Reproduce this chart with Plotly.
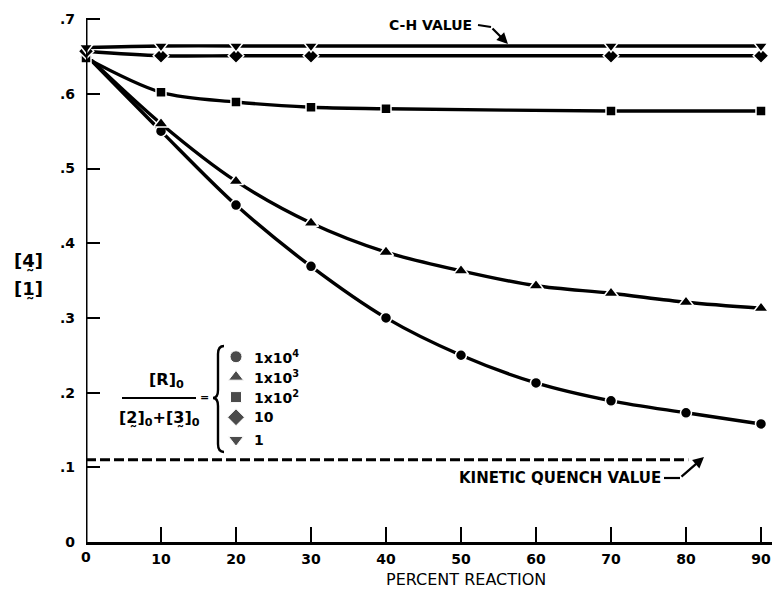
import plotly.graph_objects as go

# ---- data ----
pct = [0, 10, 20, 30, 40, 50, 60, 70, 80, 90]
ratio_1e4 = [0.652, 0.550, 0.451, 0.369, 0.300, 0.250, 0.213, 0.189, 0.173, 0.158]
ratio_1e3 = [0.652, 0.560, 0.483, 0.427, 0.388, 0.363, 0.343, 0.333, 0.321, 0.313]
pct_1e2 = [0, 10, 20, 30, 40, 70, 90]
ratio_1e2 = [0.648, 0.602, 0.589, 0.582, 0.580, 0.577, 0.577]
pct_10 = [0, 10, 20, 30, 70, 90]
ratio_10 = [0.657, 0.651, 0.651, 0.651, 0.651, 0.651]
pct_1 = [0, 10, 20, 30, 70, 90]
ratio_1 = [0.662, 0.664, 0.664, 0.664, 0.664, 0.664]
kinetic_quench = 0.110
kq_end = 80.3

legend_labels = ["1x10<sup>4</sup>", "1x10<sup>3</sup>", "1x10<sup>2</sup>", "10", "1"]
legend_symbols = ["circle", "triangle-up", "square", "diamond", "triangle-down"]
legend_y = [0.248, 0.221, 0.194, 0.167, 0.137]

x_ticks = [10, 20, 30, 40, 50, 60, 70, 80, 90]
x_ticklabels = ["10", "20", "30", "40", "50", "60", "70", "80", "90"]
y_ticks = [0, 0.1, 0.2, 0.3, 0.4, 0.5, 0.6, 0.7]
y_ticklabels = ["0", ".1", ".2", ".3", ".4", ".5", ".6", ".7"]

FONT = "DejaVu Sans"
BODY = 8                      # default page body margin
W, H = 780 - BODY, 590 - BODY
PL, PT, PB = 86, 15, 542      # plot area edges in page pixels
ML, MR, MT, MB = PL - BODY, 0, PT - BODY, 590 - PB
PW = W - ML - MR
PH = H - MT - MB
XS = 7.5      # px per x unit
YS = 747.0    # px per y unit


def px2x(px):
    return (px - PL) / XS


def px2y(py):
    return (PB - py) / YS


def pxp(px):
    return (px - PL) / PW


def pyp(py):
    return (PB - py) / PH


fig = go.Figure()

series = [
    (pct, ratio_1e4, "circle", 11),
    (pct, ratio_1e3, "triangle-up", 13),
    (pct_1e2, ratio_1e2, "square", 10),
    (pct_10, ratio_10, "diamond", 12),
    (pct_1, ratio_1, "triangle-down", 12),
]
for xs, ys, sym, sz in series:
    fig.add_trace(go.Scatter(
        x=xs, y=ys, mode="lines+markers",
        line=dict(color="black", width=3.4, shape="spline", smoothing=0.9),
        marker=dict(symbol=sym, size=sz, color="black",
                    line=dict(color="white", width=1.5)),
        cliponaxis=False, showlegend=False, hoverinfo="skip"))

# legend key markers
fig.add_trace(go.Scatter(
    x=[px2x(236)] * len(legend_y), y=legend_y, mode="markers",
    marker=dict(symbol=legend_symbols, size=[12, 13, 11, 13, 13], color="black"),
    showlegend=False, hoverinfo="skip", cliponaxis=False))

shapes = []
# y axis line
shapes.append(dict(type="line", xref="x", yref="y", x0=0, x1=0, y0=0, y1=0.7,
                   line=dict(color="black", width=3)))
# kinetic quench dashed line
shapes.append(dict(type="line", xref="x", yref="y", x0=0, x1=kq_end,
                   y0=kinetic_quench, y1=kinetic_quench,
                   line=dict(color="black", width=3, dash="10px,4px")))
# fraction bar
shapes.append(dict(type="line", xref="x", yref="y", x0=px2x(122), x1=px2x(196),
                   y0=px2y(398), y1=px2y(398), line=dict(color="black", width=2.2)))
# C-H arrow tail
shapes.append(dict(type="line", xref="x", yref="y", x0=px2x(478), x1=px2x(491),
                   y0=px2y(25), y1=px2y(27), line=dict(color="black", width=2.2)))
# kinetic arrow tail
shapes.append(dict(type="line", xref="x", yref="y", x0=px2x(664), x1=px2x(680),
                   y0=px2y(478), y1=px2y(478), line=dict(color="black", width=2.2)))
# brace
bx = 218
top, mid, bot = 346, 398, 452


def P(a, b):
    return f"{px2x(a)},{px2y(b)}"


brace = (f"M {P(bx+6, top)} Q {P(bx, top)} {P(bx, top+8)} L {P(bx, mid-8)} "
         f"Q {P(bx, mid)} {P(bx-5, mid)} Q {P(bx, mid)} {P(bx, mid+8)} "
         f"L {P(bx, bot-8)} Q {P(bx, bot)} {P(bx+6, bot)}")
shapes.append(dict(type="path", xref="x", yref="y", path=brace,
                   line=dict(color="black", width=2.4)))

annotations = []


def note(px, py, text, size, weight="bold", xanchor="center"):
    annotations.append(dict(
        x=pxp(px), y=pyp(py), xref="paper", yref="paper", text=text,
        showarrow=False, xanchor=xanchor, yanchor="middle",
        font=dict(family=FONT, size=size, color="black", weight=weight)))


def arrow(hx, hy, tx, ty):
    annotations.append(dict(x=pxp(hx), y=pyp(hy), xref="paper", yref="paper",
                            ax=tx - hx, ay=ty - hy, text="", showarrow=True,
                            arrowhead=2, arrowsize=1, arrowwidth=2.2,
                            arrowcolor="black"))


note(430, 25, "C-H VALUE", 14)
arrow(508, 44, 491, 27)
note(560, 478, "KINETIC QUENCH VALUE", 15)
arrow(704, 457, 680, 478)
# y axis label
note(28, 261, "[4\u0330]", 18)
note(28, 289, "[1\u0330]", 18)
# legend fraction
note(166, 380, "[R]<sub>0</sub>", 16)
note(159, 418, "[2\u0330]<sub>0</sub>+[3\u0330]<sub>0</sub>", 16)
note(204, 397, "=", 11)
for lab, ly in zip(legend_labels, legend_y):
    note(252, PB - ly * YS, lab, 14, xanchor="left")
# x axis title
note(466, 579, "PERCENT REACTION", 16, weight="normal")
# x=0 tick label
note(86, 557, "0", 14)

fig.update_layout(
    width=W, height=H,
    margin=dict(l=ML, r=MR, t=MT, b=MB, autoexpand=False),
    plot_bgcolor="white", paper_bgcolor="white",
    shapes=shapes, annotations=annotations,
    xaxis=dict(range=[0, PW / XS], showgrid=False, zeroline=False,
               showline=True, linecolor="black", linewidth=3,
               ticks="inside", ticklen=15, tickwidth=2, tickcolor="black",
               tickvals=x_ticks, ticktext=x_ticklabels, automargin=False,
               ticklabelstandoff=2,
               tickfont=dict(family=FONT, size=14, color="black", weight="bold")),
    yaxis=dict(range=[0, PH / YS], showgrid=False, zeroline=False,
               showline=False, automargin=False,
               ticks="inside", ticklen=14, tickwidth=2, tickcolor="black",
               tickvals=y_ticks, ticktext=y_ticklabels, ticklabelstandoff=10,
               tickfont=dict(family=FONT, size=14, color="black", weight="bold")),
)

fig.write_html("out.html")
